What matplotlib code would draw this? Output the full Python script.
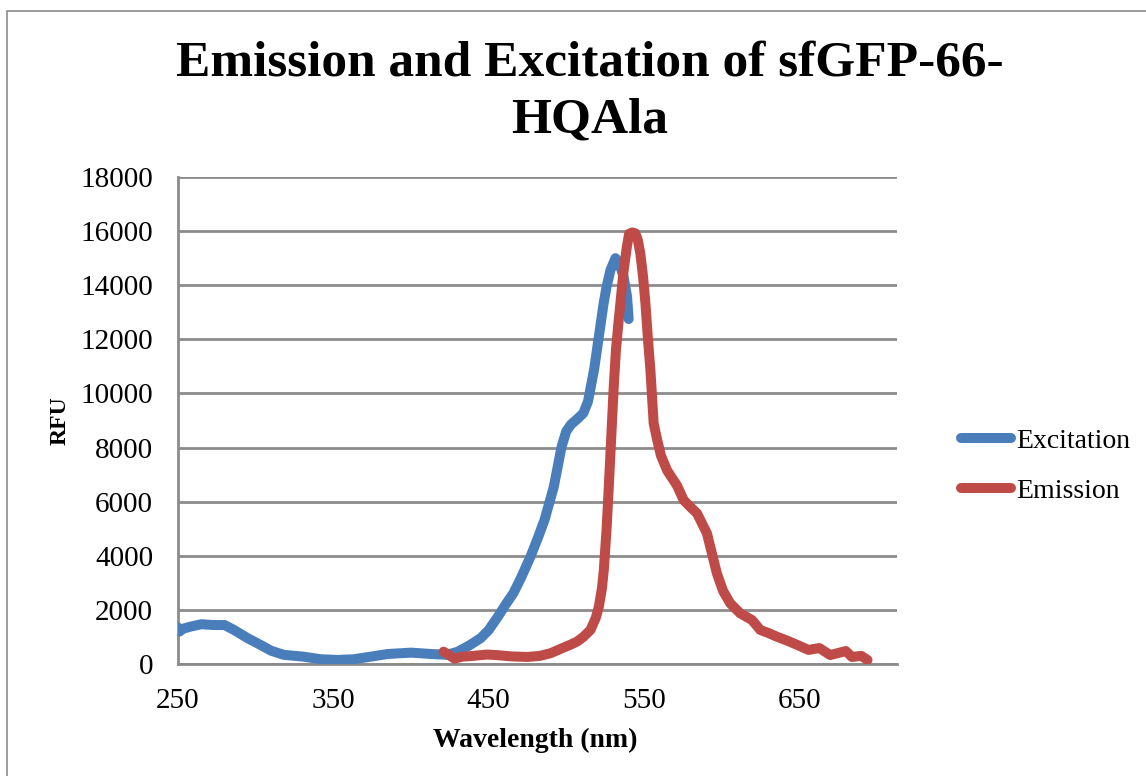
import matplotlib
matplotlib.use("Agg")
import matplotlib.pyplot as plt
from matplotlib.patches import Rectangle

# ---- data ----
exc_wl = [250, 251, 253, 258, 265, 273, 280, 286, 295, 301, 310, 318, 331, 342,
          353, 363, 374, 385, 400, 413, 423, 430, 438, 445, 450, 456, 461, 466,
          471, 477, 482, 486, 492, 497, 500, 503, 507, 511, 514, 516, 518, 520,
          522, 524, 526, 528.5, 531.7, 534, 537, 539.2, 540.2]
exc_rfu = [1350, 1200, 1300, 1380, 1470, 1440, 1440, 1260, 950, 770, 490, 340,
           270, 175, 150, 175, 270, 370, 420, 370, 340, 450, 700, 960, 1250,
           1750, 2200, 2620, 3200, 3970, 4700, 5320, 6550, 8030, 8600, 8850,
           9050, 9270, 9700, 10300, 10900, 11700, 12500, 13300, 13950, 14560,
           15000, 14850, 14300, 13570, 12750]

em_wl = [421, 424, 428, 433, 440, 449, 455, 465, 475, 483, 490, 498, 503, 507,
         511, 515.6, 519, 521, 523, 524.2, 526, 527.4, 529, 530.6, 532, 533.8,
         535.5, 537, 539, 540.5, 542.5, 544.5, 546, 547.7, 549.5, 551, 552.5,
         554.2, 556.3, 558.5, 561, 565, 571.3, 575.6, 580, 584.2, 590.6, 597,
         601, 605.6, 612, 619.6, 625, 630, 635.6, 642, 649, 656, 663, 670, 680,
         684, 690, 694]
em_rfu = [455, 350, 200, 270, 300, 350, 330, 280, 260, 300, 400, 600, 720, 830,
          1000, 1257, 1700, 2118, 2800, 3474, 5000, 6550, 8400, 10250, 11600,
          12714, 13700, 14560, 15400, 15900, 15950, 15918, 15700, 15180, 14300,
          13330, 12100, 10866, 8900, 8300, 7700, 7150, 6600, 6060, 5800, 5570,
          4830, 3352, 2700, 2243, 1874, 1626, 1257, 1150, 1010, 870, 700, 520,
          590, 330, 480, 260, 300, 150]

x_ticks = [250, 350, 450, 550, 650]
y_ticks = list(range(0, 18001, 2000))

title = "Emission and Excitation of sfGFP-66-\nHQAla"
series_names = ["Excitation", "Emission"]
colors = ["#4A7EBB", "#BE4B48"]

W, H = 1146, 776
fig = plt.figure(figsize=(W / 100, H / 100), dpi=100)
serif = ["Liberation Serif", "DejaVu Serif"]
plt.rcParams["font.family"] = serif

# outer chart border
fig.patches.append(Rectangle((7 / W, -0.1), 1.2, 1 - 11 / H + 0.1,
                             transform=fig.transFigure, fill=False,
                             edgecolor="#8C8C8C", linewidth=1.2))

ax = fig.add_axes([178 / W, 1 - 664 / H, (897 - 178) / W, (664 - 177) / H])
ax.plot(exc_wl, exc_rfu, color=colors[0], lw=7.2, solid_capstyle="round",
        solid_joinstyle="round", label=series_names[0], zorder=3)
ax.plot(em_wl, em_rfu, color=colors[1], lw=7.2, solid_capstyle="round",
        solid_joinstyle="round", label=series_names[1], zorder=3)

ax.set_xlim(250, 713)
ax.set_ylim(0, 18000)
ax.set_xticks(x_ticks)
ax.set_yticks(y_ticks)
ax.tick_params(length=0, labelsize=21)
ax.tick_params(axis="y", pad=18)
ax.tick_params(axis="x", pad=17)
ax.grid(axis="y", color="#8C8C8C", linewidth=2)
ax.set_axisbelow(True)
for s in ["top", "right"]:
    ax.spines[s].set_visible(False)
for s in ["left", "bottom"]:
    ax.spines[s].set_color("#8C8C8C")
    ax.spines[s].set_linewidth(2)
ax.spines["bottom"].set_zorder(2.5)

fig.text(535 / W, 1 - 740 / H, "Wavelength (nm)", fontsize=20,
         fontweight="bold", ha="center", va="center")
fig.text(60 / W, 1 - 421 / H, "RFU", rotation=90, fontsize=17,
         fontweight="bold", ha="center", va="center")

fig.text(590 / W, 1 - 92 / H, title, fontsize=37, fontweight="bold",
         ha="center", va="center", linespacing=1.3)

leg = ax.legend(loc="center left", bbox_to_anchor=(961 / W, 1 - 466 / H),
                bbox_transform=fig.transFigure, frameon=False, fontsize=20,
                handlelength=1.8, handletextpad=0.2, labelspacing=0.87,
                borderpad=0, borderaxespad=0)

fig.savefig("out.png", dpi=100)
